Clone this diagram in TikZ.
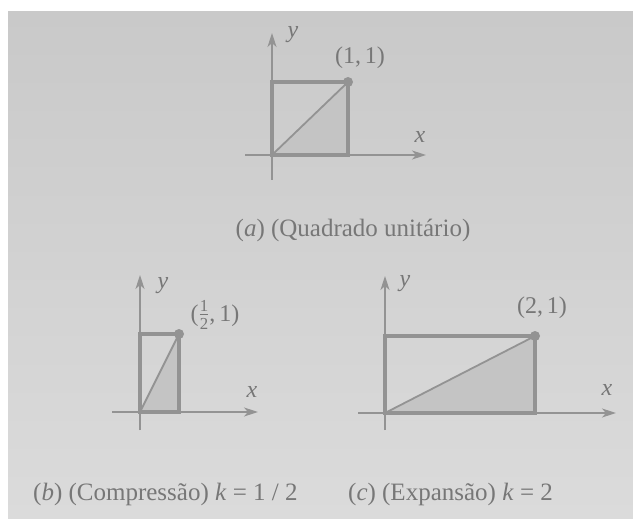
\documentclass[tikz,border=0pt]{standalone}
\usepackage{amsmath}
\usepackage{fontspec}
\setmainfont{Liberation Serif}
\usetikzlibrary{arrows.meta}
\definecolor{bgt}{HTML}{C9C9C9}
\definecolor{bgb}{HTML}{DBDBDB}
\definecolor{ink}{HTML}{939393}
\definecolor{txt}{HTML}{777777}
\definecolor{shadecol}{HTML}{C4C4C4}
\begin{document}
\begin{tikzpicture}[x=1pt,y=-1pt,
  axis/.style={draw=ink, line width=1.6pt, -{Stealth[length=14pt,width=9pt,inset=4pt]}},
  box/.style={draw=ink, line width=3.5pt},
  diag/.style={draw=ink, line width=1.8pt},
  tri/.style={fill=shadecol},
  dot/.style={circle, fill=ink, inner sep=0pt, minimum size=10pt},
  lbl/.style={text=txt, font=\fontsize{24}{26}\selectfont, inner sep=0pt},
  captext/.style={text=txt, font=\fontsize{25}{28}\selectfont, inner sep=0pt},
]
\useasboundingbox (0,0) rectangle (633,519);
\fill[white] (0,0) rectangle (633,519);
\shade[top color=bgt, bottom color=bgb] (8,12) rectangle (633,519);

% ---------- (a) unit square ----------
\coordinate (Oa) at (272,155);
\coordinate (Pa) at (348,82);
\coordinate (Ba) at (348,155);
\coordinate (ya0) at (272,180);
\coordinate (ya1) at (272,33);
\coordinate (xa0) at (245,155);
\coordinate (xa1) at (426,155);
\draw[axis] (ya0) -- (ya1);
\draw[axis] (xa0) -- (xa1);
\fill[tri] (Oa) -- (Ba) -- (Pa) -- cycle;
\draw[diag] (Oa) -- (Pa);
\draw[box] (Oa) rectangle (Pa);
\node[dot] (da) at (Pa) {};
\node[lbl] (lya) at (293,35) {\textit{y}};
\node[lbl] (lxa) at (420,137) {\textit{x}};
\node[lbl] (pa) at (360,58) {(1,\,1)};
\node[captext] (capa) at (353,230) {(\textit{a}) (Quadrado unitário)};

% ---------- (b) compression ----------
\coordinate (Ob) at (140,412);
\coordinate (Pb) at (179,334);
\coordinate (Bb) at (179,412);
\coordinate (yb0) at (140,430);
\coordinate (yb1) at (140,275);
\coordinate (xb0) at (112,412);
\coordinate (xb1) at (258,412);
\draw[axis] (yb0) -- (yb1);
\draw[axis] (xb0) -- (xb1);
\fill[tri] (Ob) -- (Bb) -- (Pb) -- cycle;
\draw[diag] (Ob) -- (Pb);
\draw[box] (Ob) rectangle (Pb);
\node[dot] (db) at (Pb) {};
\node[lbl] (lyb) at (163,286) {\textit{y}};
\node[lbl] (lxb) at (252,392) {\textit{x}};
\node[lbl] (pb) at (215,315) {($\frac{\text{1}}{\text{2}}$,\,1)};

% ---------- (c) expansion ----------
\coordinate (Oc) at (385,413);
\coordinate (Pc) at (535,336);
\coordinate (Bc) at (535,413);
\coordinate (yc0) at (385,430);
\coordinate (yc1) at (385,276);
\coordinate (xc0) at (358,413);
\coordinate (xc1) at (616,413);
\draw[axis] (yc0) -- (yc1);
\draw[axis] (xc0) -- (xc1);
\fill[tri] (Oc) -- (Bc) -- (Pc) -- cycle;
\draw[diag] (Oc) -- (Pc);
\draw[box] (Oc) rectangle (Pc);
\node[dot] (dc) at (Pc) {};
\node[lbl] (lyc) at (405,284) {\textit{y}};
\node[lbl] (lxc) at (607,390) {\textit{x}};
\node[lbl] (pc) at (542,308) {(2,\,1)};

% ---------- captions ----------
\node[captext, anchor=west] (capb) at (33,494) {(\textit{b}) (Compressão) \textit{k} = 1 / 2};
\node[captext, anchor=west] (capc) at (348,494) {(\textit{c}) (Expansão) \textit{k} = 2};
\end{tikzpicture}
\end{document}
